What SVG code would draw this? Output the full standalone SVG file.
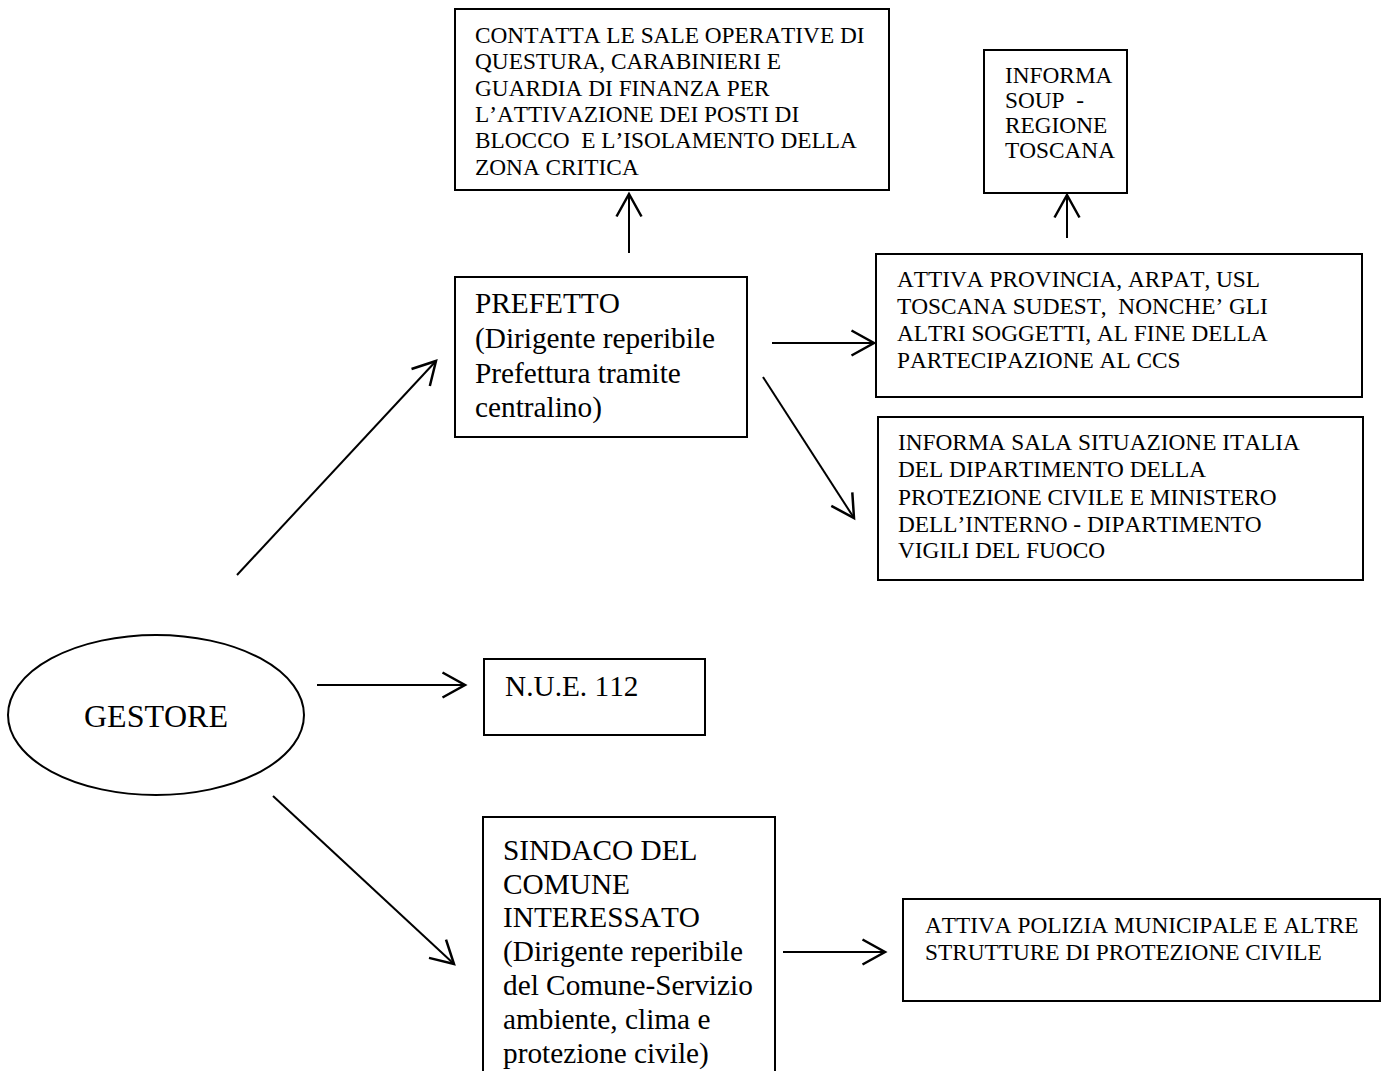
<svg xmlns="http://www.w3.org/2000/svg" width="1391" height="1071" viewBox="0 0 1391 1071">
<style>
.box{fill:#fff;stroke:#000;stroke-width:2}
.t{font-family:"Liberation Serif","Times New Roman",serif;fill:#000;white-space:pre;font-kerning:none}
.s{font-size:23.3px}
.b{font-size:29.3px}
.c{stroke:#000;stroke-width:2;fill:none}
</style>
<defs>
<marker id="ah" markerUnits="userSpaceOnUse" markerWidth="30" markerHeight="30" viewBox="-20 -12 24 24" refX="0" refY="0" orient="auto" overflow="visible">
<path d="M -18 -10 L 0 0 L -18 10" fill="none" stroke="#000" stroke-width="2"/>
</marker>
</defs>
<rect width="1391" height="1071" fill="#fff"/>
<g id="connectors">
<line class="c" x1="629" y1="253" x2="629" y2="194" marker-end="url(#ah)"/>
<line class="c" x1="1067" y1="238" x2="1067" y2="195" marker-end="url(#ah)"/>
<line class="c" x1="772" y1="343" x2="874" y2="343" marker-end="url(#ah)"/>
<line class="c" x1="763" y1="377" x2="854" y2="518" marker-end="url(#ah)"/>
<line class="c" x1="237" y1="575" x2="436" y2="361" marker-end="url(#ah)"/>
<line class="c" x1="317" y1="685" x2="465" y2="685" marker-end="url(#ah)"/>
<line class="c" x1="273" y1="796" x2="454" y2="964" marker-end="url(#ah)"/>
<line class="c" x1="783" y1="952" x2="885" y2="952" marker-end="url(#ah)"/>
</g>
<g id="contatta">
<rect class="box" x="455" y="9" width="434" height="181"/>
<text class="t s" x="475"><tspan x="475" y="43">CONTATTA LE SALE OPERATIVE DI</tspan><tspan x="475" y="69.3">QUESTURA, CARABINIERI E</tspan><tspan x="475" y="95.6">GUARDIA DI FINANZA PER</tspan><tspan x="475" y="122">L’ATTIVAZIONE DEI POSTI DI</tspan><tspan x="475" y="148.3">BLOCCO  E L’ISOLAMENTO DELLA</tspan><tspan x="475" y="174.6">ZONA CRITICA</tspan></text>
</g>
<g id="soup">
<rect class="box" x="984" y="50" width="143" height="143"/>
<text class="t s"><tspan x="1005" y="83">INFORMA</tspan><tspan x="1005" y="108">SOUP  -</tspan><tspan x="1005" y="133">REGIONE</tspan><tspan x="1005" y="158">TOSCANA</tspan></text>
</g>
<g id="prefetto">
<rect class="box" x="455" y="277" width="292" height="160"/>
<text class="t b"><tspan x="475" y="313">PREFETTO</tspan><tspan x="475" y="348">(Dirigente reperibile</tspan><tspan x="475" y="383">Prefettura tramite</tspan><tspan x="475" y="417">centralino)</tspan></text>
</g>
<g id="attiva">
<rect class="box" x="876" y="254" width="486" height="143"/>
<text class="t s"><tspan x="897" y="287">ATTIVA PROVINCIA, ARPAT, USL</tspan><tspan x="897" y="314">TOSCANA SUDEST,  NONCHE’ GLI</tspan><tspan x="897" y="341">ALTRI SOGGETTI, AL FINE DELLA</tspan><tspan x="897" y="368">PARTECIPAZIONE AL CCS</tspan></text>
</g>
<g id="informa-sala">
<rect class="box" x="878" y="417" width="485" height="163"/>
<text class="t s"><tspan x="898" y="450">INFORMA SALA SITUAZIONE ITALIA</tspan><tspan x="898" y="477">DEL DIPARTIMENTO DELLA</tspan><tspan x="898" y="505">PROTEZIONE CIVILE E MINISTERO</tspan><tspan x="898" y="532">DELL’INTERNO - DIPARTIMENTO</tspan><tspan x="898" y="558">VIGILI DEL FUOCO</tspan></text>
</g>
<g id="gestore">
<ellipse class="box" cx="156" cy="715" rx="148" ry="80"/>
<text class="t" x="156" y="727" font-size="32" text-anchor="middle">GESTORE</text>
</g>
<g id="nue">
<rect class="box" x="484" y="659" width="221" height="76"/>
<text class="t b" x="505" y="696">N.U.E. 112</text>
</g>
<g id="sindaco">
<rect class="box" x="483" y="817" width="292" height="260"/>
<text class="t b"><tspan x="503" y="860">SINDACO DEL</tspan><tspan x="503" y="893.5">COMUNE</tspan><tspan x="503" y="927">INTERESSATO</tspan><tspan x="503" y="961">(Dirigente reperibile</tspan><tspan x="503" y="995">del Comune-Servizio</tspan><tspan x="503" y="1029">ambiente, clima e</tspan><tspan x="503" y="1063">protezione civile)</tspan></text>
</g>
<g id="attiva-polizia">
<rect class="box" x="903" y="899" width="477" height="102"/>
<text class="t s"><tspan x="925" y="933">ATTIVA POLIZIA MUNICIPALE E ALTRE</tspan><tspan x="925" y="960">STRUTTURE DI PROTEZIONE CIVILE</tspan></text>
</g>
</svg>
